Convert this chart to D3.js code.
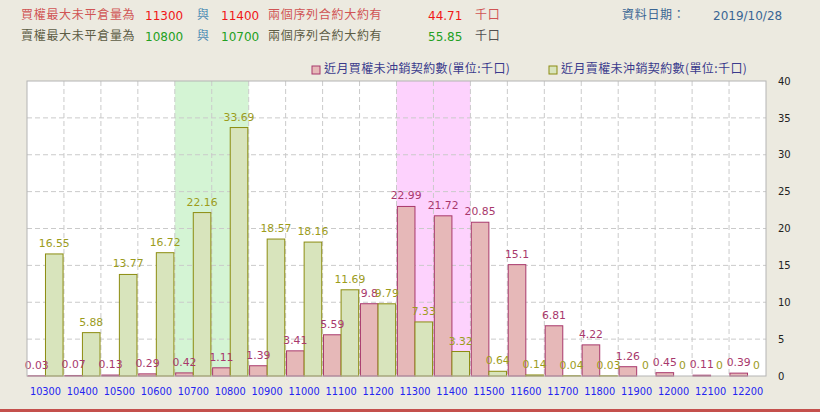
<!DOCTYPE html>
<html lang="zh-Hant">
<head>
<meta charset="UTF-8">
<title>近月選擇權未沖銷契約數</title>
<script src="https://cdn.jsdelivr.net/npm/d3@7"></script>
<style>
  html, body { margin: 0; padding: 0; background: #fff; }
  svg { display: block; }
</style>
</head>
<body>
<script>
// strike prices (x categories)
const strikes = ["10300","10400","10500","10600","10700","10800","10900","11000","11100","11200",
                 "11300","11400","11500","11600","11700","11800","11900","12000","12100","12200"];
// call OI (thousand lots)
const callOI = [0.03,0.07,0.13,0.29,0.42,1.11,1.39,3.41,5.59,9.8,
                22.99,21.72,20.85,15.1,6.81,4.22,1.26,0.45,0.11,0.39];
// put OI (thousand lots)
const putOI = [16.55,5.88,13.77,16.72,22.16,33.69,18.57,18.16,11.69,9.79,
               7.33,3.32,0.64,0.14,0.04,0.03,0,0,0,0];
const yTicks = [0,5,10,15,20,25,30,35,40];
const callMax = ["11300","11400"];
const putMax = ["10800","10700"];
const callSum = "44.71", putSum = "55.85";
const dataDate = "2019/10/28";

const W = 820, H = 415;
const margin = { top: 81, right: 54, bottom: 39, left: 27 };
const iw = W - margin.left - margin.right;
const ih = H - margin.top - margin.bottom;

const numFont = "'DejaVu Sans', 'Noto Sans CJK TC', sans-serif";
const cjkFont = "'Noto Sans CJK TC', 'DejaVu Sans', sans-serif";

const svg = d3.select("body").append("svg")
  .attr("width", W).attr("height", H);

// page background + bottom red line
svg.append("rect").attr("width", W).attr("height", 410).attr("fill", "#ECEAE0");
svg.append("rect").attr("y", 409).attr("width", W).attr("height", 3).attr("fill", "#C4504C");

// header lines
function headerLine(y, parts) {
  const t = svg.append("text").attr("y", y).attr("dominant-baseline", "middle");
  parts.forEach(p => {
    t.append("tspan").attr("x", p.x).text(p.text)
      .style("font-family", p.cjk ? cjkFont : numFont)
      .style("font-size", "12px")
      .style("letter-spacing", p.cjk ? "0.7px" : "0")
      .attr("fill", p.color);
  });
}
headerLine(16, [
  { x: 21, text: "買權最大未平倉量為", cjk: true, color: "#D05454" },
  { x: 145, text: callMax[0], color: "#F01818" },
  { x: 197, text: "與", cjk: true, color: "#4C8CB4" },
  { x: 221, text: callMax[1], color: "#F01818" },
  { x: 268, text: "兩個序列合約大約有", cjk: true, color: "#D05454" },
  { x: 428, text: callSum, color: "#F01818" },
  { x: 475, text: "千口", cjk: true, color: "#D05454" }
]);
headerLine(37, [
  { x: 21, text: "賣權最大未平倉量為", cjk: true, color: "#5C5C44" },
  { x: 145, text: putMax[0], color: "#22A022" },
  { x: 197, text: "與", cjk: true, color: "#4C8CB4" },
  { x: 221, text: putMax[1], color: "#22A022" },
  { x: 268, text: "兩個序列合約大約有", cjk: true, color: "#5C5C44" },
  { x: 428, text: putSum, color: "#22A022" },
  { x: 475, text: "千口", cjk: true, color: "#505050" }
]);
headerLine(16, [
  { x: 622, text: "資料日期：", cjk: true, color: "#3A6694" },
  { x: 713, text: dataDate, color: "#3A6694" }
]);

// legend
const legend = [
  { x: 312, label: "近月買權未沖銷契約數(單位:千口)", fill: "#E6B8B8", stroke: "#A8386C" },
  { x: 549, label: "近月賣權未沖銷契約數(單位:千口)", fill: "#D8E4BC", stroke: "#8C8C10" }
];
const lg = svg.selectAll(".lg").data(legend).enter().append("g")
  .attr("transform", d => `translate(${d.x},70)`);
lg.append("rect").attr("x", 0).attr("y", -4).attr("width", 8).attr("height", 8)
  .attr("fill", d => d.fill).attr("stroke", d => d.stroke).attr("stroke-width", 1);
lg.append("text").attr("x", 12).attr("dominant-baseline", "middle")
  .style("font-family", cjkFont).style("font-size", "12px").style("letter-spacing", "0.4px")
  .attr("fill", "#3A3A8C").text(d => d.label);

const g = svg.append("g").attr("transform", `translate(${margin.left},${margin.top})`);

const x = d3.scaleBand().domain(strikes).range([0, iw]).padding(0);
const xs = d3.scaleBand().domain(["call", "put"]).range([0, x.bandwidth()])
  .paddingInner(0).paddingOuter(0.05);
const y = d3.scaleLinear().domain([0, 40]).range([ih, 0]);

// plot background
g.append("rect").attr("width", iw).attr("height", ih).attr("fill", "#fff");

// highlighted strikes
function highlight(keys, color) {
  const x0 = d3.min(keys, k => x(k));
  const x1 = d3.max(keys, k => x(k) + x.bandwidth());
  g.append("rect").attr("x", x0).attr("y", 0).attr("width", x1 - x0).attr("height", ih)
    .attr("fill", color);
}
highlight(putMax, "#D4F4D4");
highlight(callMax, "#FDD2FD");

// grid
g.append("g").selectAll("line").data(strikes.slice(1)).enter().append("line")
  .attr("x1", d => x(d)).attr("x2", d => x(d)).attr("y1", 0).attr("y2", ih)
  .attr("stroke", "#CACACA").attr("stroke-dasharray", "5,3");
g.append("g").selectAll("line").data(yTicks.slice(1, -1)).enter().append("line")
  .attr("x1", 0).attr("x2", iw).attr("y1", d => y(d)).attr("y2", d => y(d))
  .attr("stroke", "#CACACA").attr("stroke-dasharray", "5,3");

// bars
const rows = strikes.map((s, i) => ({ s, call: callOI[i], put: putOI[i] }));
const series = [
  { key: "call", fill: "#E6B8B8", stroke: "#A8386C", label: "#A8386C" },
  { key: "put", fill: "#D8E4BC", stroke: "#8C8C10", label: "#9C9C1C" }
];
series.forEach(se => {
  g.append("g").selectAll("rect").data(rows.filter(r => r[se.key] > 0)).enter().append("rect")
    .attr("x", d => x(d.s) + xs(se.key))
    .attr("y", d => y(d[se.key]))
    .attr("width", xs.bandwidth())
    .attr("height", d => ih - y(d[se.key]))
    .attr("fill", se.fill).attr("stroke", se.stroke).attr("stroke-width", 1);
});
series.forEach(se => {
  g.append("g").selectAll("text").data(rows).enter().append("text")
    .attr("x", d => x(d.s) + xs(se.key) + xs.bandwidth() / 2)
    .attr("y", d => y(d[se.key]) - 7)
    .attr("text-anchor", "middle")
    .style("font-family", numFont).style("font-size", "10.8px")
    .attr("fill", se.label)
    .text(d => d[se.key]);
});

// plot border
g.append("rect").attr("width", iw).attr("height", ih).attr("fill", "none")
  .attr("stroke", "#B4B4B4").attr("stroke-width", 1);

// axes
const xAxis = g.append("g").attr("transform", `translate(0,${ih})`)
  .call(d3.axisBottom(x).tickSize(0).tickPadding(12));
xAxis.select(".domain").remove();
xAxis.selectAll("text").style("font-family", numFont).style("font-size", "9.8px").attr("fill", "#2424F0");

const yAxis = g.append("g").attr("transform", `translate(${iw},0)`)
  .call(d3.axisRight(y).tickValues(yTicks).tickSize(0).tickPadding(12));
yAxis.select(".domain").remove();
yAxis.selectAll("text").style("font-family", numFont).style("font-size", "10px").attr("fill", "#222");
</script>
</body>
</html>
